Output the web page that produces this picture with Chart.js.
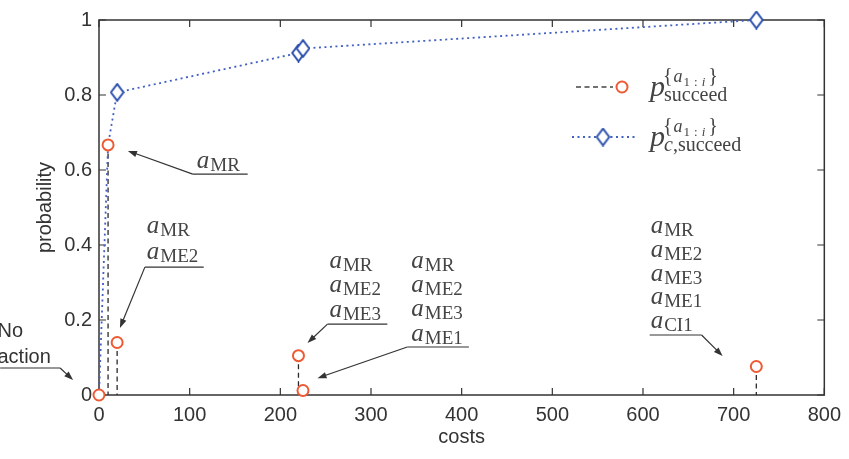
<!DOCTYPE html>
<html>
<head>
<meta charset="utf-8">
<script src="https://cdn.jsdelivr.net/npm/chart.js@4/dist/chart.umd.min.js"></script>
<style>
  html, body { margin: 0; padding: 0; background: #fff; }
  #wrap { width: 849px; height: 459px; }
</style>
</head>
<body>
<div id="wrap"><canvas id="chart"></canvas></div>
<script>
// data
const costs = [0, 10, 20, 220, 225, 725];
const pSucceed = [0, 0.667, 0.14, 0.105, 0.012, 0.076];
const pCumSucceed = [0, 0.667, 0.807, 0.912, 0.924, 1.0];
const xTicks = [0, 100, 200, 300, 400, 500, 600, 700, 800];
const yTicks = [0, 0.2, 0.4, 0.6, 0.8, 1];

// action sets shown next to the points (subscripts of a)
const noActionLabel = ["No", "action"];
const actionLabels = [
  ["MR"],
  ["MR", "ME2"],
  ["MR", "ME2", "ME3"],
  ["MR", "ME2", "ME3", "ME1"],
  ["MR", "ME2", "ME3", "ME1", "CI1"]
];

// where the annotations sit, in data units (cost, probability)
const labelSpots = [
  { x: 107.8, y: 0.605, gap: 25, ul: [103.4, 164, 0.589], side: "left", tip: [31.9, 0.651] },
  { x: 52.8, y: 0.432, gap: 26, ul: [50.6, 115.5, 0.341], side: "left", tip: [23.1, 0.179] },
  { x: 254.2, y: 0.339, gap: 24.5, ul: [252, 318, 0.189], side: "left", tip: [230, 0.139] },
  { x: 344.4, y: 0.339, gap: 24.3, ul: [340, 408, 0.128], side: "left", tip: [241, 0.045] },
  { x: 608.5, y: 0.432, gap: 23.8, ul: [607.4, 664.6, 0.16], side: "right", tip: [687.8, 0.104] }
];
const noActionSpot = { x: -112, y: 0.155, gap: 26, ul: [-109, -42.9, 0.072], side: "right", tip: [-28.6, 0.04] };

const orange = "#ee5a33";
const blueLine = "#4260c4";
const blueMark = "#2c50ad";
const ink = "#333";
const textInk = "#444";
const sans = '"Liberation Sans", Arial, sans-serif';
const serif = '"Liberation Serif", "Times New Roman", serif';

function makeDiamond() {
  const c = document.createElement("canvas");
  c.width = 15;
  c.height = 19;
  const g = c.getContext("2d");
  g.fillStyle = "#fff";
  g.strokeStyle = blueMark;
  g.lineWidth = 2;
  g.beginPath();
  g.moveTo(7.5, 1.2);
  g.lineTo(13.8, 9.5);
  g.lineTo(7.5, 17.8);
  g.lineTo(1.2, 9.5);
  g.closePath();
  g.fill();
  g.stroke();
  return c;
}
const diamond = makeDiamond();

function run(ctx, text, font, x, y) {
  ctx.font = font;
  ctx.fillText(text, x, y);
  return x + ctx.measureText(text).width;
}

function drawA(ctx, x, y, sub) {
  const ax = run(ctx, "a", "italic 25px " + serif, x, y);
  run(ctx, sub, "19px " + serif, ax + 1, y + 3);
}

function drawArrow(ctx, x1, y1, x2, y2) {
  const ang = Math.atan2(y2 - y1, x2 - x1);
  const len = 9, half = 3.2;
  ctx.beginPath();
  ctx.moveTo(x1, y1);
  ctx.lineTo(x2 - Math.cos(ang) * len * 0.8, y2 - Math.sin(ang) * len * 0.8);
  ctx.stroke();
  ctx.beginPath();
  ctx.moveTo(x2, y2);
  ctx.lineTo(x2 - Math.cos(ang) * len + Math.sin(ang) * half, y2 - Math.sin(ang) * len - Math.cos(ang) * half);
  ctx.lineTo(x2 - Math.cos(ang) * len - Math.sin(ang) * half, y2 - Math.sin(ang) * len + Math.cos(ang) * half);
  ctx.closePath();
  ctx.fill();
}

function drawLeader(ctx, xs, ys, spot) {
  const x1 = xs.getPixelForValue(spot.ul[0]);
  const x2 = xs.getPixelForValue(spot.ul[1]);
  const yu = ys.getPixelForValue(spot.ul[2]);
  const tx = xs.getPixelForValue(spot.tip[0]);
  const ty = ys.getPixelForValue(spot.tip[1]);
  ctx.beginPath();
  ctx.moveTo(x1, yu);
  ctx.lineTo(x2, yu);
  ctx.stroke();
  const sx = spot.side === "left" ? x1 : x2;
  drawArrow(ctx, sx, yu, tx, ty);
}

function drawPLabel(ctx, x, y, subParts) {
  const px = run(ctx, "p", "italic 30px " + serif, x, y);
  let sx = px - 2;
  const sy = y - 14;
  sx = run(ctx, "{", "20px " + serif, sx, sy);
  sx = run(ctx, "a", "italic 18px " + serif, sx + 1, sy);
  sx = run(ctx, "1", "13px " + serif, sx + 1, sy + 4);
  sx = run(ctx, ":", "13px " + serif, sx + 4, sy + 4);
  sx = run(ctx, "i", "italic 13px " + serif, sx + 4, sy + 4);
  run(ctx, "}", "20px " + serif, sx + 3, sy);
  let bx = px - 1;
  subParts.forEach((part) => {
    bx = run(ctx, part.t, (part.it ? "italic " : "") + "20px " + serif, bx, y + 5);
  });
}

const decorPlugin = {
  id: "decor",
  beforeDatasetsDraw(chart) {
    const { ctx, chartArea: a, scales } = chart;
    ctx.save();
    // frame with inward ticks
    ctx.strokeStyle = ink;
    ctx.lineWidth = 1.5;
    ctx.strokeRect(a.left, a.top, a.right - a.left, a.bottom - a.top);
    ctx.lineWidth = 1.2;
    ctx.beginPath();
    scales.x.ticks.forEach((t) => {
      const px = scales.x.getPixelForValue(t.value);
      ctx.moveTo(px, a.bottom);
      ctx.lineTo(px, a.bottom - 7);
      ctx.moveTo(px, a.top);
      ctx.lineTo(px, a.top + 7);
    });
    scales.y.ticks.forEach((t) => {
      const py = scales.y.getPixelForValue(t.value);
      ctx.moveTo(a.left, py);
      ctx.lineTo(a.left + 7, py);
      ctx.moveTo(a.right, py);
      ctx.lineTo(a.right - 7, py);
    });
    ctx.stroke();
    // dashed stems below the single-set probabilities
    const y0 = scales.y.getPixelForValue(0);
    ctx.strokeStyle = "#2a2a2a";
    ctx.lineWidth = 1.3;
    ctx.setLineDash([5, 3.5]);
    chart.getDatasetMeta(0).data.forEach((pt) => {
      ctx.beginPath();
      ctx.moveTo(pt.x, pt.y);
      ctx.lineTo(pt.x, y0);
      ctx.stroke();
    });
    ctx.restore();
  },
  afterDraw(chart) {
    const { ctx, scales } = chart;
    const xs = scales.x, ys = scales.y;
    ctx.save();
    ctx.textAlign = "left";
    ctx.textBaseline = "alphabetic";

    // annotations
    ctx.fillStyle = textInk;
    actionLabels.forEach((subs, i) => {
      const spot = labelSpots[i];
      const x = xs.getPixelForValue(spot.x);
      const y = ys.getPixelForValue(spot.y);
      subs.forEach((s, k) => drawA(ctx, x, y + k * spot.gap, s));
    });
    const nx = xs.getPixelForValue(noActionSpot.x);
    const ny = ys.getPixelForValue(noActionSpot.y);
    ctx.font = "20px " + sans;
    ctx.fillStyle = ink;
    noActionLabel.forEach((s, k) => ctx.fillText(s, nx, ny + k * noActionSpot.gap));

    ctx.strokeStyle = ink;
    ctx.fillStyle = ink;
    ctx.lineWidth = 1.2;
    labelSpots.forEach((spot) => drawLeader(ctx, xs, ys, spot));
    drawLeader(ctx, xs, ys, noActionSpot);

    // legend
    ctx.lineWidth = 1.3;
    ctx.strokeStyle = "#444";
    ctx.setLineDash([5, 3.5]);
    ctx.beginPath();
    ctx.moveTo(576, 87);
    ctx.lineTo(613, 87);
    ctx.stroke();
    ctx.setLineDash([]);
    ctx.lineWidth = 2;
    ctx.strokeStyle = orange;
    ctx.fillStyle = "#fff";
    ctx.beginPath();
    ctx.arc(622, 87, 5.5, 0, Math.PI * 2);
    ctx.fill();
    ctx.stroke();

    ctx.lineWidth = 1.8;
    ctx.strokeStyle = blueLine;
    ctx.setLineDash([2, 3.5]);
    ctx.beginPath();
    ctx.moveTo(572, 137);
    ctx.lineTo(636, 137);
    ctx.stroke();
    ctx.setLineDash([]);
    ctx.drawImage(diamond, 603 - diamond.width / 2, 137 - diamond.height / 2);

    ctx.fillStyle = textInk;
    drawPLabel(ctx, 650, 96, [{ t: "succeed" }]);
    drawPLabel(ctx, 650, 146, [{ t: "c", it: true }, { t: "," }, { t: "succeed" }]);
    ctx.restore();
  }
};

new Chart(document.getElementById("chart"), {
  type: "scatter",
  data: {
    datasets: [
      {
        label: "p succeed",
        data: costs.map((c, i) => ({ x: c, y: pSucceed[i] })),
        showLine: false,
        pointStyle: "circle",
        pointRadius: 5.5,
        pointBorderWidth: 2,
        pointBorderColor: orange,
        pointBackgroundColor: "#fff",
        pointHoverRadius: 5.5,
        clip: false
      },
      {
        label: "p c,succeed",
        data: costs.map((c, i) => ({ x: c, y: pCumSucceed[i] })),
        showLine: true,
        borderColor: blueLine,
        borderWidth: 1.8,
        borderDash: [2, 3.5],
        fill: false,
        tension: 0,
        pointStyle: diamond,
        pointRadius: (ctx) => (ctx.dataIndex < 2 ? 0 : 7),
        pointHoverRadius: (ctx) => (ctx.dataIndex < 2 ? 0 : 7),
        clip: false
      }
    ]
  },
  options: {
    responsive: true,
    maintainAspectRatio: false,
    animation: false,
    layout: { padding: { top: 20, right: 23, left: 0, bottom: 0 } },
    plugins: {
      legend: { display: false },
      tooltip: { enabled: false }
    },
    scales: {
      x: {
        type: "linear",
        min: 0,
        max: 800,
        afterBuildTicks: (scale) => { scale.ticks = xTicks.map((v) => ({ value: v })); },
        afterFit: (scale) => { scale.height = 64; },
        grid: { display: false, drawTicks: false },
        border: { display: false },
        ticks: { color: ink, font: { family: sans, size: 20 }, padding: 8, maxRotation: 0 },
        title: { display: true, text: "costs", color: ink, font: { family: sans, size: 20 }, padding: { top: 0, bottom: 10 } }
      },
      y: {
        type: "linear",
        min: 0,
        max: 1,
        afterBuildTicks: (scale) => { scale.ticks = yTicks.map((v) => ({ value: v })); },
        afterFit: (scale) => { scale.width = 99; },
        grid: { display: false, drawTicks: false },
        border: { display: false },
        ticks: {
          color: ink,
          font: { family: sans, size: 20 },
          padding: 7,
          callback: (v) => String(Number(v.toFixed(1)))
        },
        title: { display: true, text: "probability", color: ink, font: { family: sans, size: 20 }, padding: { top: 33, bottom: 0 } }
      }
    }
  },
  plugins: [decorPlugin]
});
</script>
</body>
</html>
